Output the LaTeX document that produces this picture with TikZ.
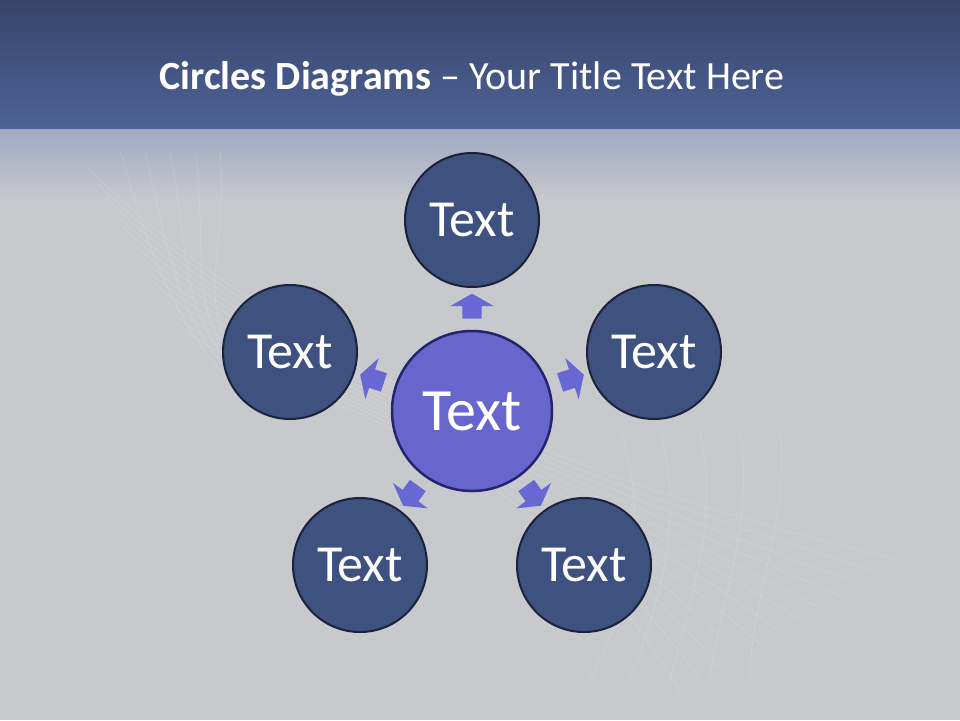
\documentclass[tikz,border=0pt]{standalone}
\usepackage{fontspec}
\setmainfont{Carlito}
\usetikzlibrary{shapes.arrows, calc, positioning}
\definecolor{HeadTop}{RGB}{54,68,106}
\definecolor{HeadBottom}{RGB}{78,98,150}
\definecolor{FadeTop}{RGB}{160,168,194}
\definecolor{BackGrey}{RGB}{200,201,205}
\definecolor{SpokeFill}{RGB}{63,81,126}
\definecolor{SpokeLine}{RGB}{26,34,60}
\definecolor{HubFill}{RGB}{102,102,204}
\definecolor{HubLine}{RGB}{36,36,110}
\definecolor{PointerFill}{RGB}{104,104,212}
\tikzstyle{hub} = [circle, line width=2.5pt, draw=HubLine, fill=HubFill, minimum size=160pt, inner sep=0pt, text=white, font=\fontsize{60}{62}\selectfont]
\tikzstyle{spoke} = [circle, line width=2pt, draw=SpokeLine, fill=SpokeFill, minimum size=134pt, inner sep=0pt, text=white, font=\fontsize{52}{54}\selectfont]
\tikzstyle{pointer} = [single arrow, draw=none, fill=PointerFill, inner sep=9.5pt, minimum height=24pt, single arrow head extend=12pt, single arrow tip angle=120, sloped, allow upside down]
\tikzstyle{sparkle} = [white, opacity=0.2, line width=0.5pt]
\begin{document}
\begin{tikzpicture}[x=1pt, y=-1pt]
		\useasboundingbox (0,0) rectangle (960,720);
		% background
		\fill[BackGrey] (0,0) rectangle (960,720);
		\shade[top color=FadeTop, bottom color=BackGrey] (0,128) rectangle (960,200);
		\shade[top color=HeadTop, bottom color=HeadBottom] (0,0) rectangle (960,128);
		\foreach \k in {0,...,11} {
			\draw[sparkle] (90+8*\k,170+14*\k) .. controls (250,330+6*\k) and (520,470-5*\k) .. (900-20*\k,560+12*\k);
		}
		\foreach \k in {0,...,4} {
			\draw[sparkle] (120+25*\k,150) .. controls (150+20*\k,260) and (180,330) .. (230+10*\k,380);
			\draw[sparkle] (620+40*\k,430) .. controls (650+35*\k,520) and (630+30*\k,600) .. (590+40*\k,680);
		}
		\node (Title) [text=white, font=\fontsize{40}{44}\selectfont] at (472,79) {\textbf{Circles Diagrams} – Your Title Text Here};
		% circles
		\node (Hub) [hub] at (472,411) {Text};
		\node (SpokeTop) [spoke] at (472,220) {Text};
		\node (SpokeLeft) [spoke] at (290,352) {Text};
		\node (SpokeRight) [spoke] at (654,352) {Text};
		\node (SpokeLowLeft) [spoke] at (360,565) {Text};
		\node (SpokeLowRight) [spoke] at (584,565) {Text};
		% pointers
		\path (Hub) -- (SpokeTop) node[pointer, midway] {};
		\path (Hub) -- (SpokeLeft) node[pointer, midway] {};
		\path (Hub) -- (SpokeRight) node[pointer, midway] {};
		\path (Hub) -- (SpokeLowLeft) node[pointer, midway] {};
		\path (Hub) -- (SpokeLowRight) node[pointer, midway] {};
\end{tikzpicture}
\end{document}
